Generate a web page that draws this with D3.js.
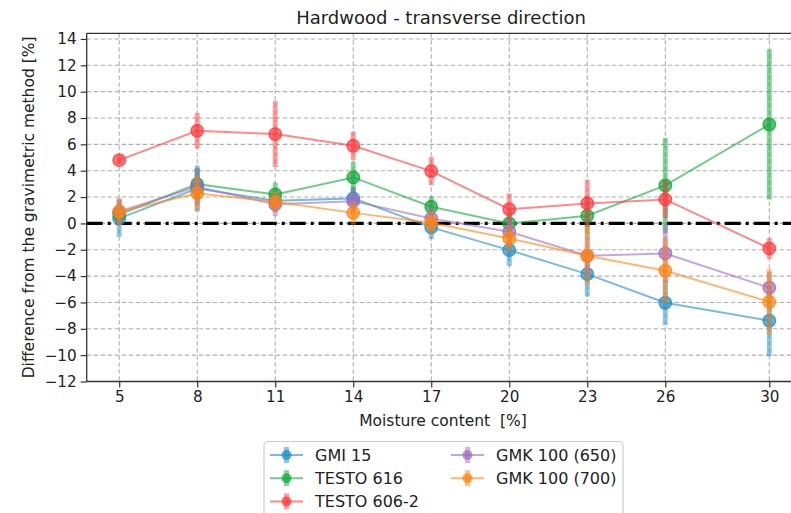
<!DOCTYPE html>
<html>
<head>
<meta charset="utf-8">
<script src="https://cdn.jsdelivr.net/npm/d3@7"></script>
<style>
  html, body { margin: 0; padding: 0; background: #fff; }
  svg { display: block; font-family: "DejaVu Sans", sans-serif; }
</style>
</head>
<body>
<svg id="chart" width="791" height="513"></svg>
<script>
// ---- data ----
const moisture = [5, 8, 11, 14, 17, 20, 23, 26, 30];
const yTicks = [-12, -10, -8, -6, -4, -2, 0, 2, 4, 6, 8, 10, 12, 14];

const seriesNames = ["GMI 15", "TESTO 616", "TESTO 606-2", "GMK 100 (650)", "GMK 100 (700)"];

const gmi15      = [0.38, 2.65, 1.72, 1.90, -0.30, -2.03, -3.85, -6.02, -7.39];
const testo616   = [0.68, 2.98, 2.20, 3.49, 1.26, 0.00, 0.58, 2.88, 7.51];
const testo6062  = [4.80, 7.03, 6.78, 5.89, 3.97, 1.08, 1.52, 1.82, -1.90];
const gmk650     = [0.90, 2.78, 1.45, 1.69, 0.38, -0.63, -2.46, -2.28, -4.88];
const gmk700     = [0.88, 2.28, 1.64, 0.80, 0.05, -1.14, -2.46, -3.59, -5.95];

const gmi15Err     = [1.4, 1.75, 0.8, 0.9, 0.9, 1.2, 1.7, 1.7, 2.7];
const testo616Err  = [0.7, 1.2, 0.9, 1.2, 0.8, 0.9, 1.5, 3.6, 5.7];
const testo6062Err = [0.3, 1.35, 2.5, 1.07, 1.07, 1.2, 1.8, 1.4, 0.8];
const gmk650Err    = [1.0, 1.4, 0.9, 0.9, 0.9, 0.9, 1.5, 2.2, 1.2];
const gmk700Err    = [1.0, 1.3, 0.8, 0.9, 0.9, 1.0, 2.2, 2.5, 2.5];

const colors = ["#1f8ec9", "#14a83a", "#ff3b3f", "#a06cc8", "#ff850f"];

const series = [
  { name: seriesNames[0], values: gmi15,     err: gmi15Err,     color: colors[0] },
  { name: seriesNames[1], values: testo616,  err: testo616Err,  color: colors[1] },
  { name: seriesNames[2], values: testo6062, err: testo6062Err, color: colors[2] },
  { name: seriesNames[3], values: gmk650,    err: gmk650Err,    color: colors[3] },
  { name: seriesNames[4], values: gmk700,    err: gmk700Err,    color: colors[4] }
];

// ---- layout ----
const svg = d3.select("#chart");
const plot = { left: 86.7, right: 801.8, top: 33.3, bottom: 381.5 };

const x = d3.scaleLinear().domain([3.75, 31.25]).range([plot.left, plot.right]);
const y = d3.scaleLinear().domain([-12, 14.43]).range([plot.bottom, plot.top]);

const g = svg.append("g");

// grid
g.append("g").selectAll("line").data(moisture).join("line")
  .attr("x1", d => x(d)).attr("x2", d => x(d))
  .attr("y1", plot.top).attr("y2", plot.bottom)
  .attr("stroke", "#b0b0b0").attr("stroke-width", 1.1).attr("stroke-dasharray", "4.5,2.5");
g.append("g").selectAll("line").data(yTicks.filter(d => d !== -12)).join("line")
  .attr("x1", plot.left).attr("x2", plot.right)
  .attr("y1", d => y(d)).attr("y2", d => y(d))
  .attr("stroke", "#b0b0b0").attr("stroke-width", 1.1).attr("stroke-dasharray", "4.5,2.5");

// zero reference line (dash-dot)
g.append("line")
  .attr("x1", plot.left).attr("x2", plot.right)
  .attr("y1", y(0)).attr("y2", y(0))
  .attr("stroke", "#000").attr("stroke-width", 3.2)
  .attr("stroke-dasharray", "16,5,3,5");

// series
const line = d3.line().x((d, i) => x(moisture[i])).y(d => y(d));
series.forEach(s => {
  const sg = g.append("g");
  sg.append("path").datum(s.values)
    .attr("d", line).attr("fill", "none")
    .attr("stroke", s.color).attr("stroke-width", 2).attr("stroke-opacity", 0.6);
  sg.selectAll("line.err").data(s.values).join("line").attr("class", "err")
    .attr("x1", (d, i) => x(moisture[i])).attr("x2", (d, i) => x(moisture[i]))
    .attr("y1", (d, i) => y(d + s.err[i])).attr("y2", (d, i) => y(d - s.err[i]))
    .attr("stroke", s.color).attr("stroke-width", 5).attr("stroke-opacity", 0.5);
  sg.selectAll("circle").data(s.values).join("circle")
    .attr("cx", (d, i) => x(moisture[i])).attr("cy", d => y(d))
    .attr("r", 6.3).attr("fill", s.color).attr("fill-opacity", 0.7)
    .attr("stroke", s.color).attr("stroke-width", 1.3).attr("stroke-opacity", 0.8);
});

// spines
const spine = "#333";
g.append("line").attr("x1", plot.left).attr("x2", plot.left).attr("y1", plot.top).attr("y2", plot.bottom)
  .attr("stroke", spine).attr("stroke-width", 1.3);
g.append("line").attr("x1", plot.left).attr("x2", plot.right).attr("y1", plot.bottom).attr("y2", plot.bottom)
  .attr("stroke", spine).attr("stroke-width", 1.3);
g.append("line").attr("x1", plot.left).attr("x2", plot.right).attr("y1", plot.top).attr("y2", plot.top)
  .attr("stroke", spine).attr("stroke-width", 1.3);

// axes
const fs = 15.2;
const xAxis = d3.axisBottom(x).tickValues(moisture).tickSize(6).tickPadding(4).tickFormat(d3.format("d"));
const xg = svg.append("g").attr("transform", `translate(0,${plot.bottom})`).call(xAxis);
xg.select(".domain").remove();
xg.selectAll("line").attr("stroke", spine).attr("stroke-width", 1.2);
xg.selectAll("text").attr("font-size", fs).attr("fill", "#222").attr("font-family", "DejaVu Sans");

const yAxis = d3.axisLeft(y).tickValues(yTicks).tickSize(6).tickPadding(4)
  .tickFormat(d => d < 0 ? "\u2212" + Math.abs(d) : String(d));
const yg = svg.append("g").attr("transform", `translate(${plot.left},0)`).call(yAxis);
yg.select(".domain").remove();
yg.selectAll("line").attr("stroke", spine).attr("stroke-width", 1.2);
yg.selectAll("text").attr("font-size", fs).attr("fill", "#222").attr("font-family", "DejaVu Sans");

// title & labels
svg.append("text").attr("x", 441).attr("y", 24).attr("text-anchor", "middle")
  .attr("font-size", 18).attr("fill", "#222").text("Hardwood - transverse direction");
svg.append("text").attr("x", 443).attr("y", 426).attr("text-anchor", "middle")
  .attr("font-size", 15.5).attr("fill", "#222").style("white-space", "pre")
  .text("Moisture content  [%]");
svg.append("text").attr("transform", `translate(34,${(plot.top + plot.bottom) / 2}) rotate(-90)`)
  .attr("text-anchor", "middle").attr("font-size", 15.5).attr("fill", "#222")
  .text("Difference from the gravimetric method [%]");

// legend
const lg = svg.append("g");
lg.append("rect").attr("x", 264).attr("y", 441.5).attr("width", 359).attr("height", 90)
  .attr("rx", 4).attr("fill", "#fff").attr("stroke", "#cccccc").attr("stroke-width", 1.2);
const legendPos = [
  { col: 0, row: 0 }, { col: 0, row: 1 }, { col: 0, row: 2 },
  { col: 1, row: 0 }, { col: 1, row: 1 }
];
series.forEach((s, i) => {
  const p = legendPos[i];
  const hx = p.col === 0 ? 270 : 451;
  const ty = 455 + p.row * 23.2;
  const e = lg.append("g");
  e.append("line").attr("x1", hx).attr("x2", hx + 33).attr("y1", ty).attr("y2", ty)
    .attr("stroke", s.color).attr("stroke-width", 2).attr("stroke-opacity", 0.6);
  e.append("line").attr("x1", hx + 16.5).attr("x2", hx + 16.5).attr("y1", ty - 8).attr("y2", ty + 8)
    .attr("stroke", s.color).attr("stroke-width", 5).attr("stroke-opacity", 0.5);
  e.append("circle").attr("cx", hx + 16.5).attr("cy", ty).attr("r", 5)
    .attr("fill", s.color).attr("fill-opacity", 0.75);
  e.append("text").attr("x", hx + 45).attr("y", ty + 6)
    .attr("font-size", 16).attr("fill", "#222").text(s.name);
});
</script>
</body>
</html>
